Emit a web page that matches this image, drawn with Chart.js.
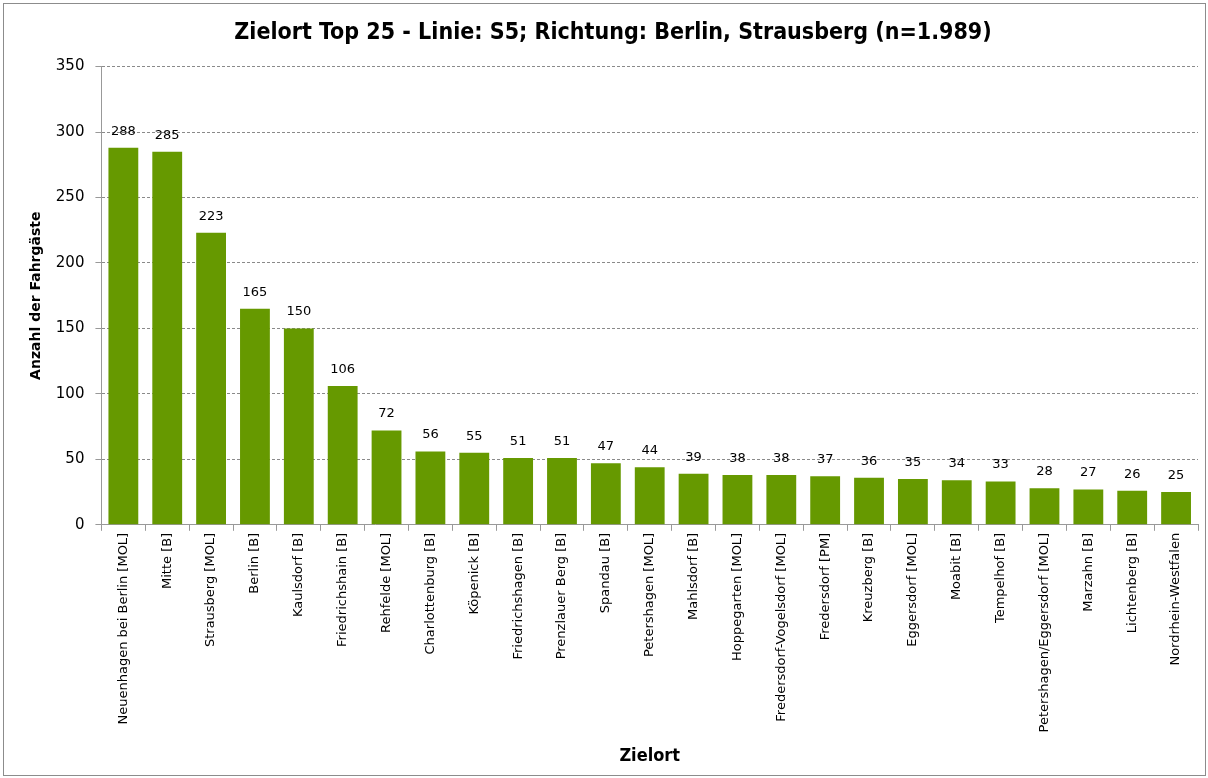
<!DOCTYPE html>
<html>
<head>
<meta charset="utf-8">
<script src="https://cdn.jsdelivr.net/npm/chart.js@4.4.0/dist/chart.umd.min.js"></script>
<style>
  html, body { margin: 0; padding: 0; background: #fff; }
  #wrap { width: 1208px; height: 778px; position: relative; }
</style>
</head>
<body>
<div id="wrap"><canvas id="chart"></canvas></div>
<script>
const zielorte = [
    'Neuenhagen bei Berlin [MOL]', 'Mitte [B]', 'Strausberg [MOL]', 'Berlin [B]', 'Kaulsdorf [B]',
    'Friedrichshain [B]', 'Rehfelde [MOL]', 'Charlottenburg [B]', 'Köpenick [B]', 'Friedrichshagen [B]',
    'Prenzlauer Berg [B]', 'Spandau [B]', 'Petershagen [MOL]', 'Mahlsdorf [B]', 'Hoppegarten [MOL]',
    'Fredersdorf-Vogelsdorf [MOL]', 'Fredersdorf [PM]', 'Kreuzberg [B]', 'Eggersdorf [MOL]', 'Moabit [B]',
    'Tempelhof [B]', 'Petershagen/Eggersdorf [MOL]', 'Marzahn [B]', 'Lichtenberg [B]', 'Nordrhein-Westfalen'
];
const fahrgaeste = [288, 285, 223, 165, 150, 106, 72, 56, 55, 51, 51, 47, 44, 39, 38, 38, 37, 36, 35, 34, 33, 28, 27, 26, 25];
const yTicks = [0, 50, 100, 150, 200, 250, 300, 350];

const barColor = '#669900';
const fontFamily = "'DejaVu Sans', Verdana, sans-serif";
const boldFamily = "'DejaVu Sans Condensed', 'DejaVu Sans', sans-serif";

// draws the value above each bar
const valueLabels = {
    id: 'valueLabels',
    afterDatasetsDraw(chart) {
        const ctx = chart.ctx;
        const meta = chart.getDatasetMeta(0);
        ctx.save();
        ctx.font = '13px ' + fontFamily;
        ctx.fillStyle = '#000';
        ctx.textAlign = 'center';
        ctx.textBaseline = 'bottom';
        meta.data.forEach((bar, i) => {
            ctx.fillText(String(fahrgaeste[i]), bar.x, bar.y - 10);
        });
        ctx.restore();
    }
};

// white background and thin outer frame
const frame = {
    id: 'frame',
    beforeDraw(chart) {
        const ctx = chart.ctx;
        ctx.save();
        ctx.fillStyle = '#fff';
        ctx.fillRect(0, 0, chart.width, chart.height);
        ctx.strokeStyle = '#8c8c8c';
        ctx.lineWidth = 1;
        ctx.strokeRect(3.5, 3.5, chart.width - 6, chart.height - 6);
        ctx.restore();
    }
};

new Chart(document.getElementById('chart'), {
    type: 'bar',
    data: {
        labels: zielorte,
        datasets: [{
            data: fahrgaeste,
            backgroundColor: barColor,
            borderWidth: 0,
            barPercentage: 0.68,
            categoryPercentage: 1
        }]
    },
    options: {
        responsive: true,
        maintainAspectRatio: false,
        animation: false,
        layout: { padding: { left: 28, right: 10, top: 7, bottom: 11 } },
        plugins: {
            legend: { display: false },
            tooltip: { enabled: false },
            title: {
                display: true,
                text: 'Zielort Top 25 - Linie: S5; Richtung: Berlin, Strausberg (n=1.989)',
                color: '#000',
                font: { family: boldFamily, size: 23, weight: 'bold' },
                padding: { top: 12, bottom: 20 }
            }
        },
        scales: {
            x: {
                grid: {
                    offset: true,
                    drawOnChartArea: false,
                    drawTicks: true,
                    tickLength: 6,
                    color: '#999'
                },
                border: { color: '#999' },
                ticks: {
                    autoSkip: false,
                    maxRotation: 90,
                    minRotation: 90,
                    color: '#000',
                    font: { family: fontFamily, size: 13 },
                    padding: 2
                },
                title: {
                    display: true,
                    text: 'Zielort',
                    color: '#000',
                    font: { family: boldFamily, size: 18, weight: 'bold' },
                    padding: { top: 11, bottom: 0 }
                }
            },
            y: {
                min: 0,
                max: 350,
                afterBuildTicks(axis) {
                    axis.ticks = yTicks.map(v => ({ value: v }));
                },
                grid: {
                    color: '#8a8a8a',
                    tickLength: 6,
                    tickColor: '#999'
                },
                // dash here styles the grid lines, the axis line stays solid
                border: { color: '#999', dash: [3, 2], display: true },
                ticks: {
                    color: '#000',
                    font: { family: fontFamily, size: 15 },
                    padding: 11
                },
                title: {
                    display: true,
                    text: 'Anzahl der Fahrgäste',
                    color: '#000',
                    font: { family: fontFamily, size: 14, weight: 'bold' },
                    padding: { top: 0, bottom: 0 }
                }
            }
        }
    },
    plugins: [frame, valueLabels]
});
</script>
</body>
</html>
